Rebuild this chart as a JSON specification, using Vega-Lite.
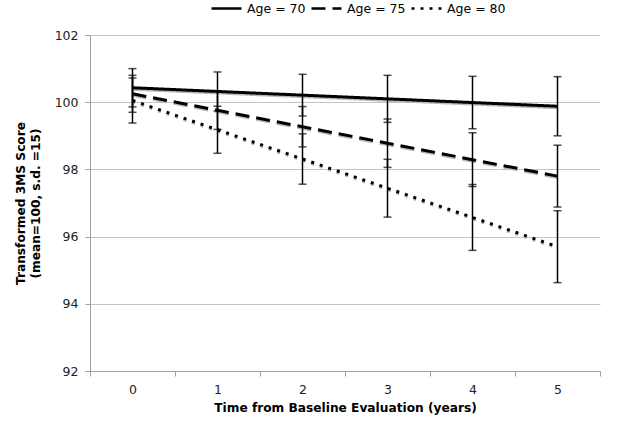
{
  "$schema": "https://vega.github.io/schema/vega-lite/v6.json",
  "width": 510,
  "height": 336,
  "autosize": {"type": "none"},
  "padding": {"left": 90, "top": 35, "right": 28, "bottom": 52},
  "background": "white",
  "config": {
    "font": "DejaVu Sans",
    "view": {"stroke": null},
    "axis": {
      "labelFont": "DejaVu Sans",
      "titleFont": "DejaVu Sans",
      "labelFontSize": 12.5,
      "labelColor": "#222",
      "titleFontSize": 12.2,
      "titleFontWeight": "bold",
      "titleColor": "#000",
      "domainColor": "#a0a0a0",
      "tickColor": "#a0a0a0",
      "gridColor": "#c4c4c4",
      "tickSize": 5
    }
  },
  "data": {
    "values": [
      {"age": "Age = 70", "t": 0, "m": 100.43, "lo": 99.86, "hi": 101.0},
      {"age": "Age = 70", "t": 1, "m": 100.32, "lo": 99.74, "hi": 100.9},
      {"age": "Age = 70", "t": 2, "m": 100.21, "lo": 99.59, "hi": 100.83},
      {"age": "Age = 70", "t": 3, "m": 100.1, "lo": 99.4, "hi": 100.8},
      {"age": "Age = 70", "t": 4, "m": 99.99, "lo": 99.21, "hi": 100.77},
      {"age": "Age = 70", "t": 5, "m": 99.88, "lo": 99.0, "hi": 100.76},
      {"age": "Age = 75", "t": 0, "m": 100.25, "lo": 99.7, "hi": 100.8},
      {"age": "Age = 75", "t": 1, "m": 99.76, "lo": 99.19, "hi": 100.33},
      {"age": "Age = 75", "t": 2, "m": 99.27, "lo": 98.67, "hi": 99.87},
      {"age": "Age = 75", "t": 3, "m": 98.78, "lo": 98.06, "hi": 99.5},
      {"age": "Age = 75", "t": 4, "m": 98.29, "lo": 97.49, "hi": 99.09},
      {"age": "Age = 75", "t": 5, "m": 97.8, "lo": 96.88, "hi": 98.72},
      {"age": "Age = 80", "t": 0, "m": 100.05, "lo": 99.38, "hi": 100.72},
      {"age": "Age = 80", "t": 1, "m": 99.18, "lo": 98.48, "hi": 99.88},
      {"age": "Age = 80", "t": 2, "m": 98.31, "lo": 97.56, "hi": 99.06},
      {"age": "Age = 80", "t": 3, "m": 97.44, "lo": 96.58, "hi": 98.3},
      {"age": "Age = 80", "t": 4, "m": 96.57, "lo": 95.59, "hi": 97.55},
      {"age": "Age = 80", "t": 5, "m": 95.7, "lo": 94.63, "hi": 96.77}
    ]
  },
  "encoding": {
    "x": {
      "field": "t",
      "type": "ordinal",
      "scale": {"type": "band", "paddingInner": 0, "paddingOuter": 0},
      "axis": {
        "title": "Time from Baseline Evaluation (years)",
        "labelAngle": 0,
        "tickBand": "extent",
        "labelPadding": 7,
        "titlePadding": 6,
        "grid": false
      }
    }
  },
  "resolve": {"scale": {"strokeDash": "independent"}, "legend": {"strokeDash": "independent"}},
  "layer": [
    {
      "mark": {"type": "line", "stroke": "#b8b8b8", "strokeWidth": 3, "yOffset": 1.5},
      "encoding": {
        "y": {"field": "m", "type": "quantitative"},
        "detail": {"field": "age"},
        "strokeDash": {
          "field": "age",
          "type": "nominal",
          "scale": {"domain": ["Age = 70", "Age = 75", "Age = 80"], "range": [[1, 0], [14, 7], [3, 6]]},
          "legend": null
        }
      }
    },
    {
      "mark": {"type": "rule", "color": "black", "strokeWidth": 1.5},
      "encoding": {
        "y": {"field": "lo", "type": "quantitative"},
        "y2": {"field": "hi"}
      }
    },
    {
      "mark": {"type": "tick", "color": "black", "thickness": 1.5, "size": 8},
      "encoding": {"y": {"field": "lo", "type": "quantitative"}}
    },
    {
      "mark": {"type": "tick", "color": "black", "thickness": 1.5, "size": 8},
      "encoding": {"y": {"field": "hi", "type": "quantitative"}}
    },
    {
      "mark": {"type": "line", "color": "black", "strokeWidth": 3},
      "encoding": {
        "y": {
          "field": "m",
          "type": "quantitative",
          "scale": {"domain": [92, 102], "zero": false, "nice": false},
          "axis": {
            "title": ["Transformed 3MS Score", "(mean=100, s.d. =15)"],
            "values": [92, 94, 96, 98, 100, 102],
            "labelPadding": 7,
            "titlePadding": 12,
            "grid": true
          }
        },
        "strokeDash": {
          "field": "age",
          "type": "nominal",
          "scale": {"domain": ["Age = 70", "Age = 75", "Age = 80"], "range": [[1, 0], [14, 7], [3, 6]]},
          "legend": {
            "title": null,
            "orient": "none",
            "direction": "horizontal",
            "legendX": 120,
            "legendY": -43,
            "symbolType": "stroke",
            "symbolSize": 900,
            "symbolStrokeColor": "black",
            "symbolStrokeWidth": 2.5,
            "labelFontSize": 12.5,
            "labelColor": "#000",
            "labelFont": "DejaVu Sans",
            "labelOffset": 4,
            "columnPadding": 0
          }
        }
      }
    }
  ]
}
